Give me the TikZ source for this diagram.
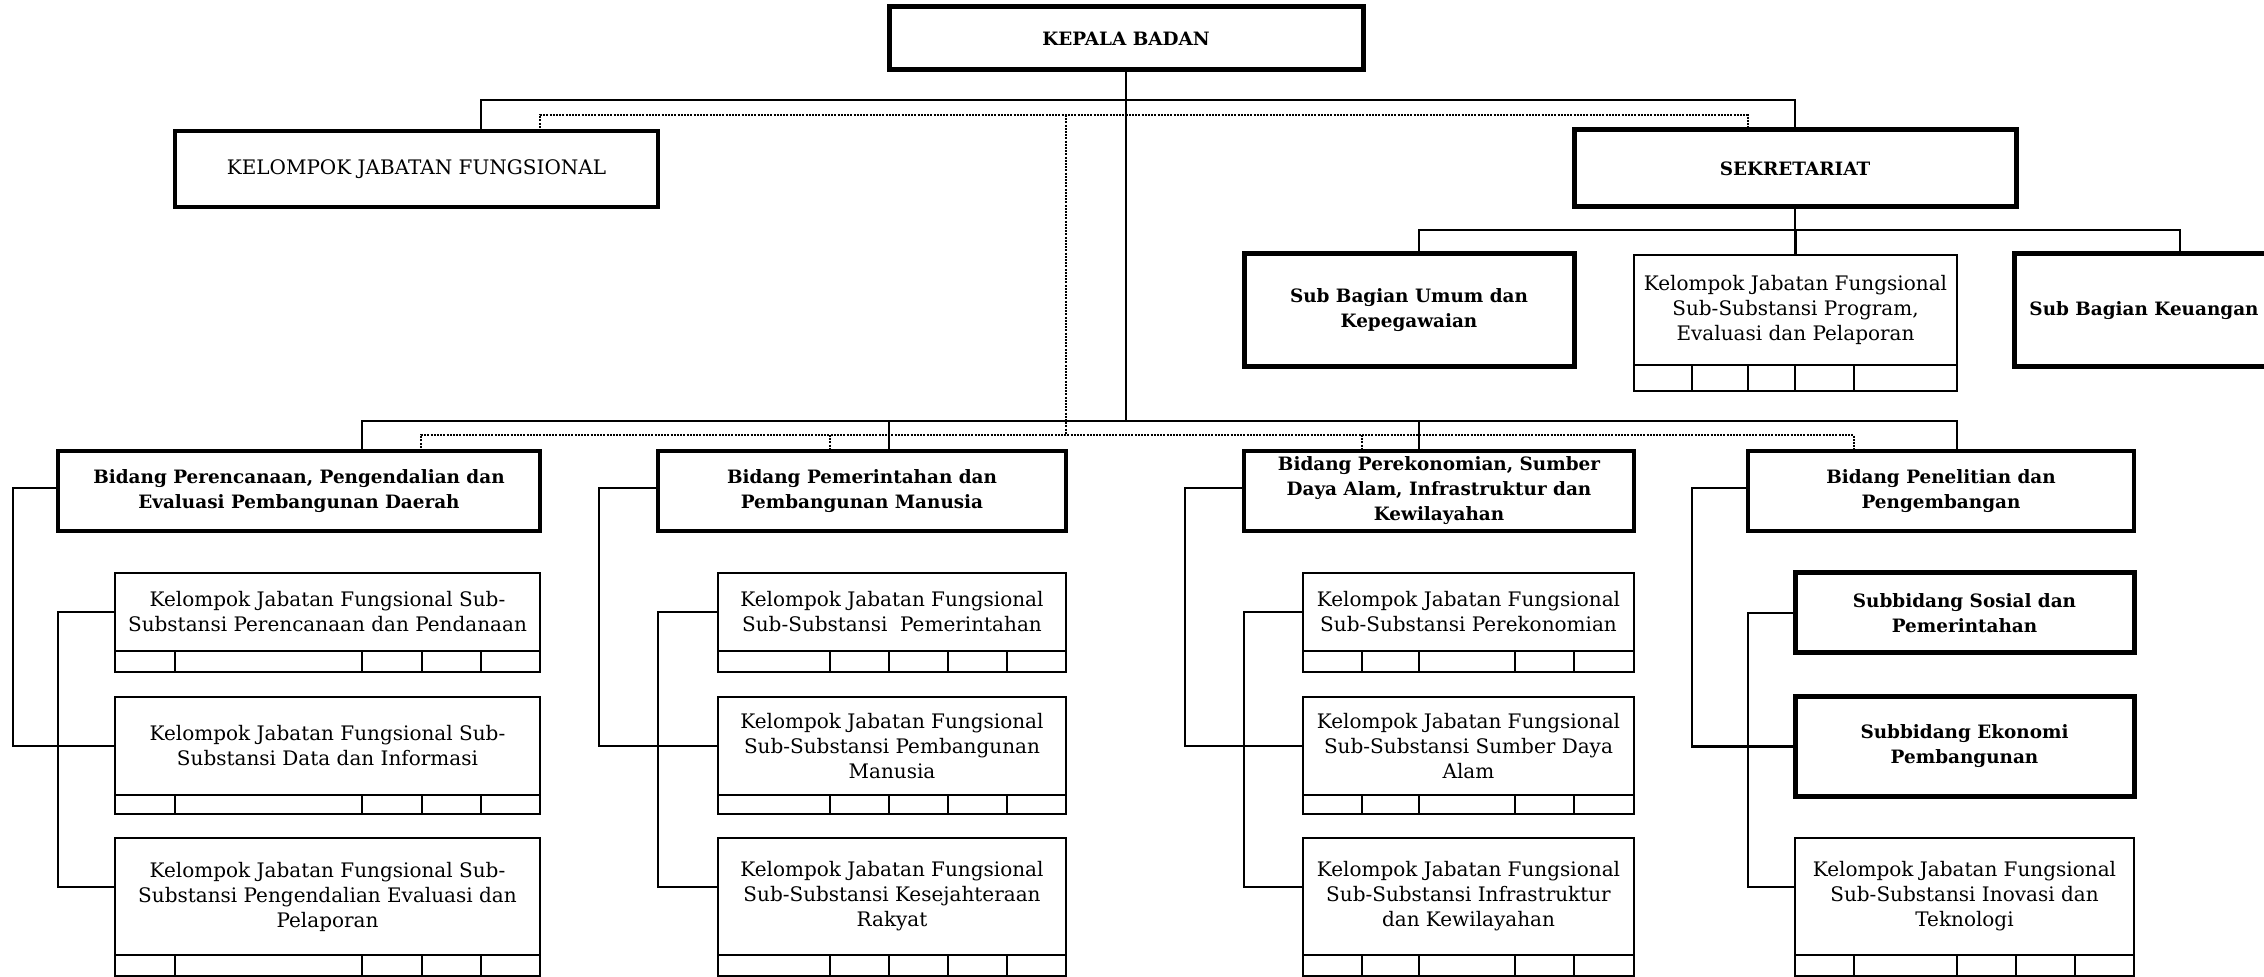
\documentclass[tikz,border=0pt]{standalone}
\usepackage{fontspec}
\setmainfont{DejaVu Serif}
\newcommand\orgbox[7]{\node[#6, minimum width={(#4-#2)*0.5pt}, minimum height={(#5-#3)*0.5pt}] (#1) at ({(#2+#4)/2},{(#3+#5)/2}) {#7};}
\newcommand\orgtable[6]{\orgbox{#1}{#2}{#3}{#4}{#5}{thinbox}{}%
  \foreach \xx in {#6} {\draw[cellline] (#1.north -| \xx,0) -- (#1.south -| \xx,0);}}
\begin{document}
\begin{tikzpicture}[x=0.5pt,y=-0.5pt,
  every node/.style={align=center, inner sep=0pt, outer sep=0pt, font=\fontsize{10}{12.5}\selectfont},
  thinbox/.style={draw, line width=1.45pt},
  midbox/.style={draw, line width=1.55pt},
  thickbox/.style={draw, line width=2.5pt},
  bf/.style={font=\fontsize{9.2}{12.5}\selectfont\bfseries},
  cellline/.style={line width=1.35pt},
  conn/.style={line width=1.4pt},
  dotconn/.style={line width=1.1pt, dash pattern=on 1pt off 0.6pt}
]
\useasboundingbox (0,0) rectangle (2264,977);
% top level
\orgbox{kb}{889}{7}{1363}{70}{thickbox,bf}{KEPALA BADAN}
\orgbox{kjf}{175}{131}{658}{207}{midbox}{KELOMPOK JABATAN FUNGSIONAL}
\orgbox{sek}{1574}{130}{2016}{207}{thickbox,bf}{SEKRETARIAT}
\orgbox{sbu}{1244}{254}{1574}{367}{thickbox,bf}{Sub Bagian Umum dan\\Kepegawaian}
\orgbox{prog}{1634}{255}{1957}{365}{thinbox}{Kelompok Jabatan Fungsional\\Sub-Substansi Program,\\Evaluasi dan Pelaporan}
\orgtable{progt}{1634}{365}{1957}{391}{1692,1748,1795,1854}
\orgbox{keu}{2014}{254}{2274}{367}{thickbox,bf}{Sub Bagian Keuangan}
% bidang
\orgbox{b1}{58}{451}{540}{531}{midbox,bf}{Bidang Perencanaan, Pengendalian dan\\Evaluasi Pembangunan Daerah}
\orgbox{b2}{658}{451}{1066}{531}{midbox,bf}{Bidang Pemerintahan dan\\Pembangunan Manusia}
\orgbox{b3}{1244}{451}{1634}{531}{midbox,bf}{Bidang Perekonomian, Sumber\\Daya Alam, Infrastruktur dan\\Kewilayahan}
\orgbox{b4}{1748}{451}{2134}{531}{midbox,bf}{Bidang Penelitian dan\\Pengembangan}
% column 1
\orgbox{c11}{115}{573}{540}{651}{thinbox}{Kelompok Jabatan Fungsional Sub-\\Substansi Perencanaan dan Pendanaan}
\orgtable{t11}{115}{651}{540}{672}{175,362,422,481}
\orgbox{c12}{115}{697}{540}{795}{thinbox}{Kelompok Jabatan Fungsional Sub-\\Substansi Data dan Informasi}
\orgtable{t12}{115}{795}{540}{814}{175,362,422,481}
\orgbox{c13}{115}{838}{540}{955}{thinbox}{Kelompok Jabatan Fungsional Sub-\\Substansi Pengendalian Evaluasi dan\\Pelaporan}
\orgtable{t13}{115}{955}{540}{976}{175,362,422,481}
% column 2
\orgbox{c21}{718}{573}{1066}{651}{thinbox}{Kelompok Jabatan Fungsional\\Sub-Substansi\ \ Pemerintahan}
\orgtable{t21}{718}{651}{1066}{672}{830,889,948,1007}
\orgbox{c22}{718}{697}{1066}{795}{thinbox}{Kelompok Jabatan Fungsional\\Sub-Substansi Pembangunan\\Manusia}
\orgtable{t22}{718}{795}{1066}{814}{830,889,948,1007}
\orgbox{c23}{718}{838}{1066}{955}{thinbox}{Kelompok Jabatan Fungsional\\Sub-Substansi Kesejahteraan\\Rakyat}
\orgtable{t23}{718}{955}{1066}{976}{830,889,948,1007}
% column 3
\orgbox{c31}{1303}{573}{1634}{651}{thinbox}{Kelompok Jabatan Fungsional\\Sub-Substansi Perekonomian}
\orgtable{t31}{1303}{651}{1634}{672}{1362,1419,1515,1574}
\orgbox{c32}{1303}{697}{1634}{795}{thinbox}{Kelompok Jabatan Fungsional\\Sub-Substansi Sumber Daya\\Alam}
\orgtable{t32}{1303}{795}{1634}{814}{1362,1419,1515,1574}
\orgbox{c33}{1303}{838}{1634}{955}{thinbox}{Kelompok Jabatan Fungsional\\Sub-Substansi Infrastruktur\\dan Kewilayahan}
\orgtable{t33}{1303}{955}{1634}{976}{1362,1419,1515,1574}
% column 4
\orgbox{c41}{1795}{573}{2134}{653}{thickbox,bf}{Subbidang Sosial dan\\Pemerintahan}
\orgbox{c42}{1795}{697}{2134}{796}{thickbox,bf}{Subbidang Ekonomi\\Pembangunan}
\orgbox{c43}{1795}{838}{2134}{955}{thinbox}{Kelompok Jabatan Fungsional\\Sub-Substansi Inovasi dan\\Teknologi}
\orgtable{t43}{1795}{955}{2134}{976}{1854,1957,2016,2075}
% connectors top
\draw[conn] (kb.south) -- (kb.south |- 0,421);
\draw[conn] (481,0 |- kjf.north) -- (481,100) -| (sek.north);
\draw[dotconn] (540,0 |- kjf.north) -- (540,115) -| (1748,0 |- sek.north);
\draw[dotconn] (1066,115) -- (1066,435);
% sekretariat
\draw[conn] (sek.south) -- (sek.south |- 0,230);
\draw[conn] (1419,0 |- sbu.north) |- (2180,230) -- (2180,0 |- keu.north);
\draw[conn] (prog.north) -- (prog.north |- 0,230);
% bidang buses
\draw[conn] (362,0 |- b1.north) |- (1957,421) -- (1957,0 |- b4.north);
\draw[conn] (889,421) -- (889,0 |- b2.north);
\draw[conn] (1419,421) -- (1419,0 |- b3.north);
\draw[dotconn] (421,0 |- b1.north) |- (1854,435) -- (1854,0 |- b4.north);
\draw[dotconn] (830,435) -- (830,0 |- b2.north);
\draw[dotconn] (1362,435) -- (1362,0 |- b3.north);
% brackets
\draw[conn] (b1.west |- 0,488) -- ++(-45,0) |- (c12.west);
\draw[conn] (c11.west) -- ++(-57,0) |- (c13.west |- 0,887);
\draw[conn] (b2.west |- 0,488) -- ++(-59,0) |- (c22.west);
\draw[conn] (c21.west) -- ++(-60,0) |- (c23.west |- 0,887);
\draw[conn] (b3.west |- 0,488) -- ++(-59,0) |- (c32.west);
\draw[conn] (c31.west) -- ++(-59,0) |- (c33.west |- 0,887);
\draw[conn] (b4.west |- 0,488) -- ++(-56,0) |- (c42.west);
\draw[conn] (c41.west) -- ++(-47,0) |- (c43.west |- 0,887);
\end{tikzpicture}
\end{document}
